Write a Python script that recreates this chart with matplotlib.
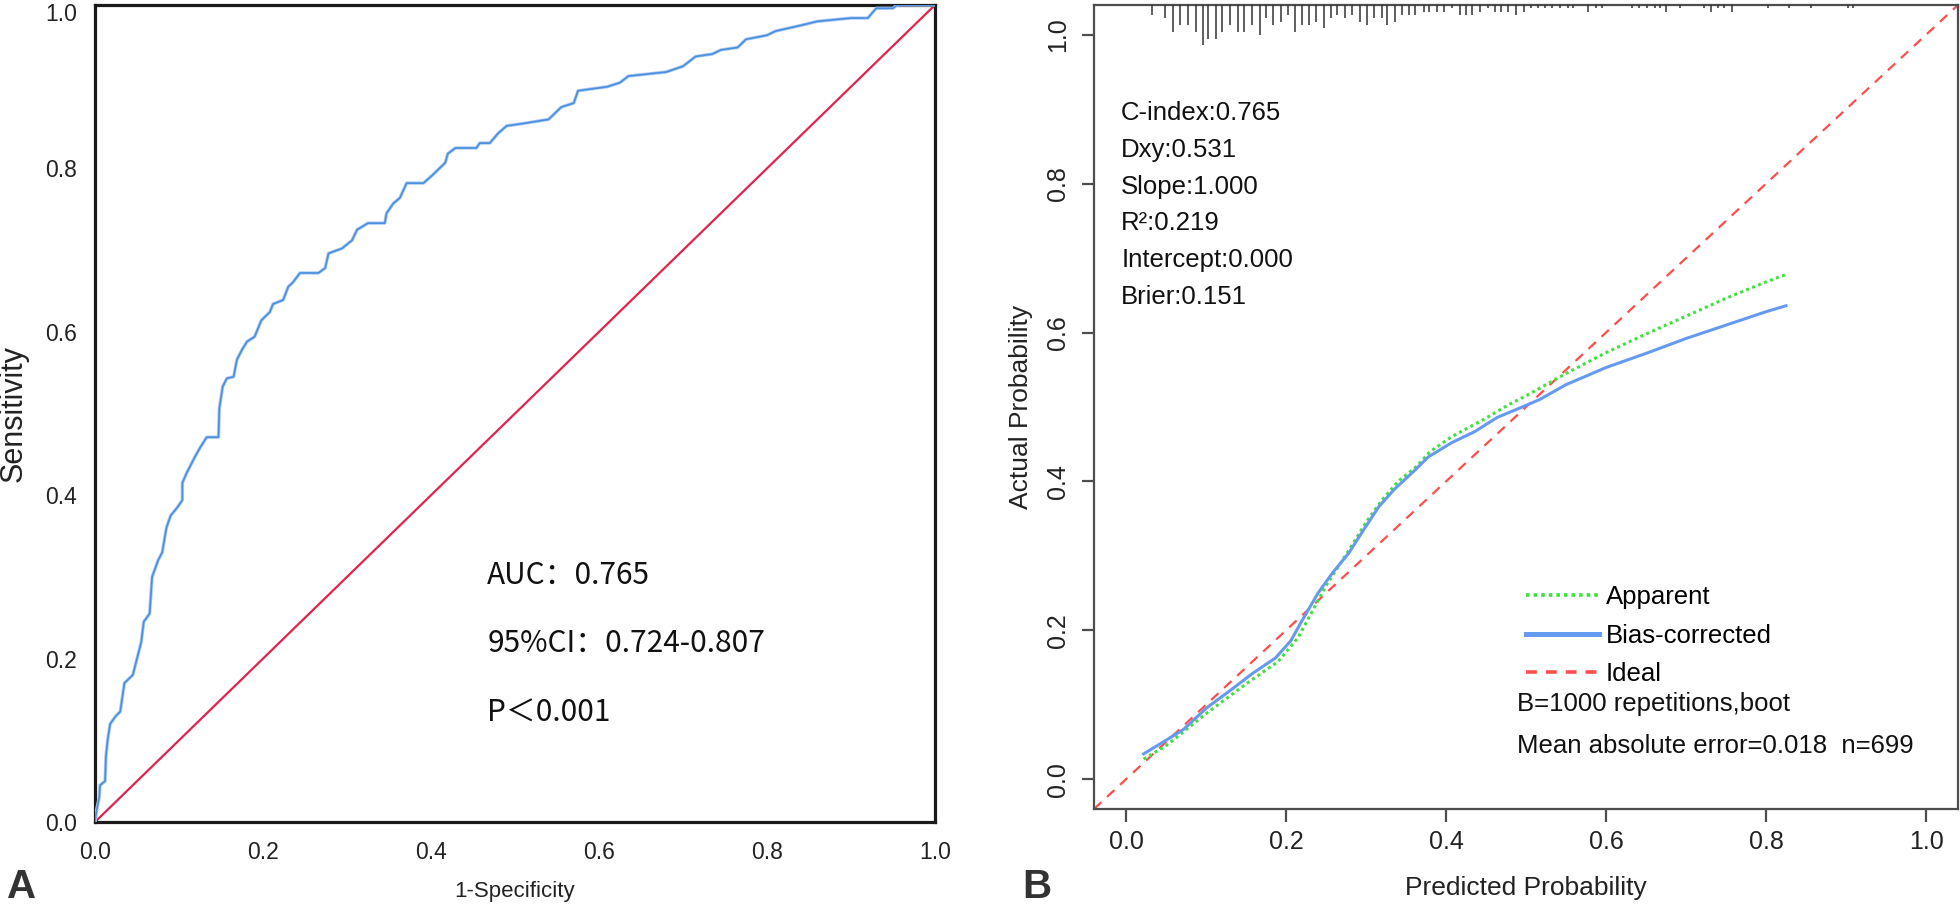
import matplotlib
matplotlib.use("Agg")
import matplotlib.pyplot as plt
import matplotlib.transforms as mtransforms
from matplotlib.lines import Line2D
import numpy as np

plt.rcParams['font.family'] = ['Liberation Sans', 'DejaVu Sans']

# ---------------- Panel A: ROC curve data ----------------
roc_fpr = [0.0, 0.002, 0.005, 0.006, 0.012, 0.013, 0.015, 0.018, 0.025, 0.03, 0.035,
           0.045, 0.05, 0.055, 0.058, 0.065, 0.068, 0.075, 0.08, 0.085, 0.09, 0.098,
           0.104, 0.104, 0.109, 0.113, 0.119, 0.125, 0.133, 0.147, 0.148, 0.152, 0.157,
           0.165, 0.169, 0.175, 0.181, 0.19, 0.198, 0.208, 0.212, 0.224, 0.23, 0.236,
           0.244, 0.266, 0.274, 0.278, 0.294, 0.306, 0.312, 0.325, 0.345, 0.347, 0.355,
           0.363, 0.371, 0.391, 0.402, 0.417, 0.42, 0.429, 0.454, 0.458, 0.47, 0.48,
           0.49, 0.51, 0.54, 0.555, 0.57, 0.575, 0.61, 0.625, 0.635, 0.68, 0.7, 0.715,
           0.735, 0.745, 0.765, 0.775, 0.8, 0.81, 0.84, 0.86, 0.9, 0.92, 0.93, 0.95,
           0.955, 1.0]
roc_tpr = [0.0, 0.015, 0.03, 0.045, 0.05, 0.08, 0.1, 0.12, 0.13, 0.135, 0.17,
           0.18, 0.2, 0.22, 0.245, 0.255, 0.3, 0.32, 0.33, 0.36, 0.375, 0.385,
           0.394, 0.415, 0.427, 0.435, 0.447, 0.458, 0.471, 0.471, 0.506, 0.533, 0.543,
           0.545, 0.566, 0.578, 0.588, 0.594, 0.614, 0.624, 0.634, 0.639, 0.655, 0.661,
           0.672, 0.672, 0.678, 0.696, 0.702, 0.712, 0.725, 0.733, 0.733, 0.745, 0.757,
           0.764, 0.782, 0.782, 0.792, 0.807, 0.818, 0.825, 0.825, 0.831, 0.831, 0.843,
           0.852, 0.855, 0.86, 0.875, 0.88, 0.895, 0.9, 0.905, 0.913, 0.918, 0.925, 0.937,
           0.94, 0.945, 0.948, 0.958, 0.963, 0.968, 0.975, 0.98, 0.984, 0.984, 0.996, 0.996,
           1.0, 1.0]
roc_ticks = [0.0, 0.2, 0.4, 0.6, 0.8, 1.0]
roc_tick_labels = ["0.0", "0.2", "0.4", "0.6", "0.8", "1.0"]
roc_stats = ["AUC\uff1a0.765", "95%CI\uff1a0.724-0.807", "P\uff1c0.001"]
roc_stats_y = [0.302, 0.219, 0.133]

# ---------------- Panel B: calibration data ----------------
app_x = [0.022, 0.05, 0.1, 0.15, 0.19, 0.215, 0.23, 0.25, 0.28, 0.3, 0.32, 0.34,
         0.363, 0.38, 0.407, 0.45, 0.478, 0.5, 0.55, 0.6, 0.65, 0.7, 0.75, 0.8, 0.825]
app_y = [0.027, 0.045, 0.088, 0.128, 0.158, 0.19, 0.22, 0.26, 0.31, 0.345, 0.375, 0.40,
         0.42, 0.44, 0.46, 0.485, 0.503, 0.515, 0.545, 0.573, 0.598, 0.622, 0.646, 0.668, 0.678]
bias_x = [0.022, 0.048, 0.072, 0.101, 0.13, 0.158, 0.187, 0.206, 0.22, 0.24, 0.258,
          0.278, 0.297, 0.316, 0.335, 0.359, 0.378, 0.407, 0.436, 0.464, 0.493, 0.517,
          0.55, 0.6, 0.65, 0.7, 0.75, 0.8, 0.825]
bias_y = [0.034, 0.051, 0.067, 0.096, 0.119, 0.142, 0.163, 0.186, 0.213, 0.25, 0.277,
          0.303, 0.335, 0.366, 0.389, 0.413, 0.433, 0.452, 0.467, 0.486, 0.499, 0.51,
          0.53, 0.553, 0.572, 0.592, 0.61, 0.628, 0.636]
rug_x = [0.033, 0.049, 0.059, 0.068, 0.078, 0.087, 0.096, 0.103, 0.112, 0.12, 0.13,
         0.14, 0.148, 0.157, 0.167, 0.175, 0.184, 0.194, 0.202, 0.211, 0.22, 0.229,
         0.237, 0.248, 0.256, 0.264, 0.274, 0.283, 0.292, 0.301, 0.31, 0.32, 0.326,
         0.336, 0.345, 0.354, 0.361, 0.372, 0.379, 0.389, 0.398, 0.407, 0.417, 0.425,
         0.432, 0.443, 0.452, 0.461, 0.469, 0.478, 0.487, 0.497, 0.506, 0.515, 0.524,
         0.533, 0.543, 0.552, 0.559, 0.578, 0.587, 0.595, 0.632, 0.641, 0.651, 0.661,
         0.667, 0.675, 0.692, 0.723, 0.731, 0.74, 0.748, 0.758, 0.802, 0.829, 0.856,
         0.903, 0.909]
rug_n = [3, 4, 8, 6, 6, 8, 12, 10, 10, 8, 6,
         8, 8, 6, 9, 4, 6, 5, 3, 8, 6, 6,
         5, 7, 4, 3, 4, 3, 5, 6, 4, 4, 6,
         5, 3, 3, 3, 2, 2, 2, 2, 1, 3, 3,
         3, 2, 1, 2, 2, 2, 3, 2, 1, 1, 1,
         1, 1, 1, 1, 2, 1, 1, 1, 1, 1, 1,
         1, 2, 1, 1, 2, 1, 1, 2, 1, 1, 1,
         1, 1]
cal_ticks = [0.0, 0.2, 0.4, 0.6, 0.8, 1.0]
cal_tick_labels = ["0.0", "0.2", "0.4", "0.6", "0.8", "1.0"]
cal_stats = ["C-index:0.765", "Dxy:0.531", "Slope:1.000", "R\u00b2:0.219",
             "Intercept:0.000", "Brier:0.151"]
cal_stats_y = [0.895, 0.845, 0.796, 0.747, 0.698, 0.648]
legend_labels = ["Apparent", "Bias-corrected", "Ideal"]
cal_notes = ["B=1000 repetitions,boot", "Mean absolute error=0.018  n=699"]
cal_notes_y = [0.101, 0.045]

W, H = 1960, 911
fig = plt.figure(figsize=(W / 100, H / 100), dpi=100)

# ---------------- Panel A ----------------
ax1 = fig.add_axes([95 / W, 1 - 822 / H, 840 / W, 817 / H])
ax1.set_xlim(0, 1)
ax1.set_ylim(0, 1)
ax1.plot(ax1.get_xlim(), ax1.get_ylim(), color='#e3234b', lw=1.6, zorder=2)
ax1.plot(roc_fpr, roc_tpr, color='#a9c9f2', lw=2.4, zorder=3)
ax1.plot(roc_fpr, roc_tpr, color='#4a8ee0', lw=1.2, zorder=4)
for s in ax1.spines.values():
    s.set_linewidth(2.3)
    s.set_color('#1a1a1a')
ax1.set_xticks(roc_ticks)
ax1.set_xticklabels(roc_tick_labels)
ax1.set_yticks(roc_ticks)
ax1.set_yticklabels(roc_tick_labels)
ax1.tick_params(axis='both', length=0, labelsize=16.5, colors='#222222')
ax1.tick_params(axis='x', pad=14)
ax1.tick_params(axis='y', pad=13)
# keep the top y label inside the figure (as in the reference)
top_lbl = ax1.yaxis.get_major_ticks()[-1].label1
top_lbl.set_transform(top_lbl.get_transform() +
                      mtransforms.ScaledTranslation(0, -5 / 72, fig.dpi_scale_trans))
ax1.set_xlabel('1-Specificity', fontsize=16, color='#222222', labelpad=12)
ax1.set_ylabel('Sensitivity', fontsize=22, color='#222222', labelpad=12)
for txt, yy in zip(roc_stats, roc_stats_y):
    ax1.text(0.467, yy, txt, fontsize=21.5, va='center', ha='left', color='#111111',
             fontweight='medium', family=['Noto Sans CJK SC', 'DejaVu Sans'])

# ---------------- Panel B ----------------
ax2 = fig.add_axes([1094 / W, 1 - 809 / H, 864 / W, 804 / H])
ax2.set_xlim(-0.04, 1.04)
ax2.set_ylim(-0.04, 1.04)
ax2.plot(ax2.get_xlim(), ax2.get_ylim(), color='#ff4d4d', lw=1.6,
         linestyle=(0, (4.5, 3.5)), zorder=2)
ax2.plot(app_x, app_y, color='#3fe03f', lw=2.2, linestyle=(0, (1, 1.1)), zorder=3)
ax2.plot(bias_x, bias_y, color='#6699f0', lw=2.2, zorder=4)
top = ax2.get_ylim()[1]
ax2.vlines(rug_x, top - np.array(rug_n) * 0.0045, top, color='#333333', lw=1.1, zorder=5)
for s in ax2.spines.values():
    s.set_linewidth(1.6)
    s.set_color('#4d4d4d')
ax2.set_xticks(cal_ticks)
ax2.set_xticklabels(cal_tick_labels)
ax2.set_yticks(cal_ticks)
ax2.set_yticklabels(cal_tick_labels, rotation=90, va='center')
ax2.tick_params(axis='both', length=9, width=1.6, color='#4d4d4d', labelsize=18,
                labelcolor='#222222')
ax2.tick_params(axis='x', pad=6)
ax2.tick_params(axis='y', pad=8)
ax2.set_xlabel('Predicted Probability', fontsize=19, color='#222222', labelpad=16)
ax2.set_ylabel('Actual Probability', fontsize=19, color='#222222', labelpad=10)
for txt, yy in zip(cal_stats, cal_stats_y):
    ax2.text(-0.006, yy, txt, fontsize=18.5, va='center', ha='left', color='#111111')

h_app = Line2D([], [], color='#3fe03f', lw=2.6, linestyle=(0, (1, 1.1)))
h_bias = Line2D([], [], color='#6699f0', lw=3.6)
h_ideal = Line2D([], [], color='#ff4d4d', lw=2.6, linestyle=(0, (3, 2.5)))
ax2.legend([h_app, h_bias, h_ideal], legend_labels, loc='upper left',
           bbox_to_anchor=(0.5, 0.279), frameon=False, fontsize=18.5,
           handlelength=2.85, handletextpad=0.25, labelspacing=0.58,
           borderpad=0, borderaxespad=0)
for txt, yy in zip(cal_notes, cal_notes_y):
    ax2.text(0.489, yy, txt, fontsize=18.5, va='center', ha='left', color='#111111')

# Panel letters
fig.text(7 / W, 1 - 898 / H, 'A', fontsize=29, fontweight='bold', color='#333333',
         ha='left', va='baseline')
fig.text(1022 / W, 1 - 898 / H, 'B', fontsize=29, fontweight='bold', color='#333333',
         ha='left', va='baseline')

fig.savefig('out.png', dpi=100)
